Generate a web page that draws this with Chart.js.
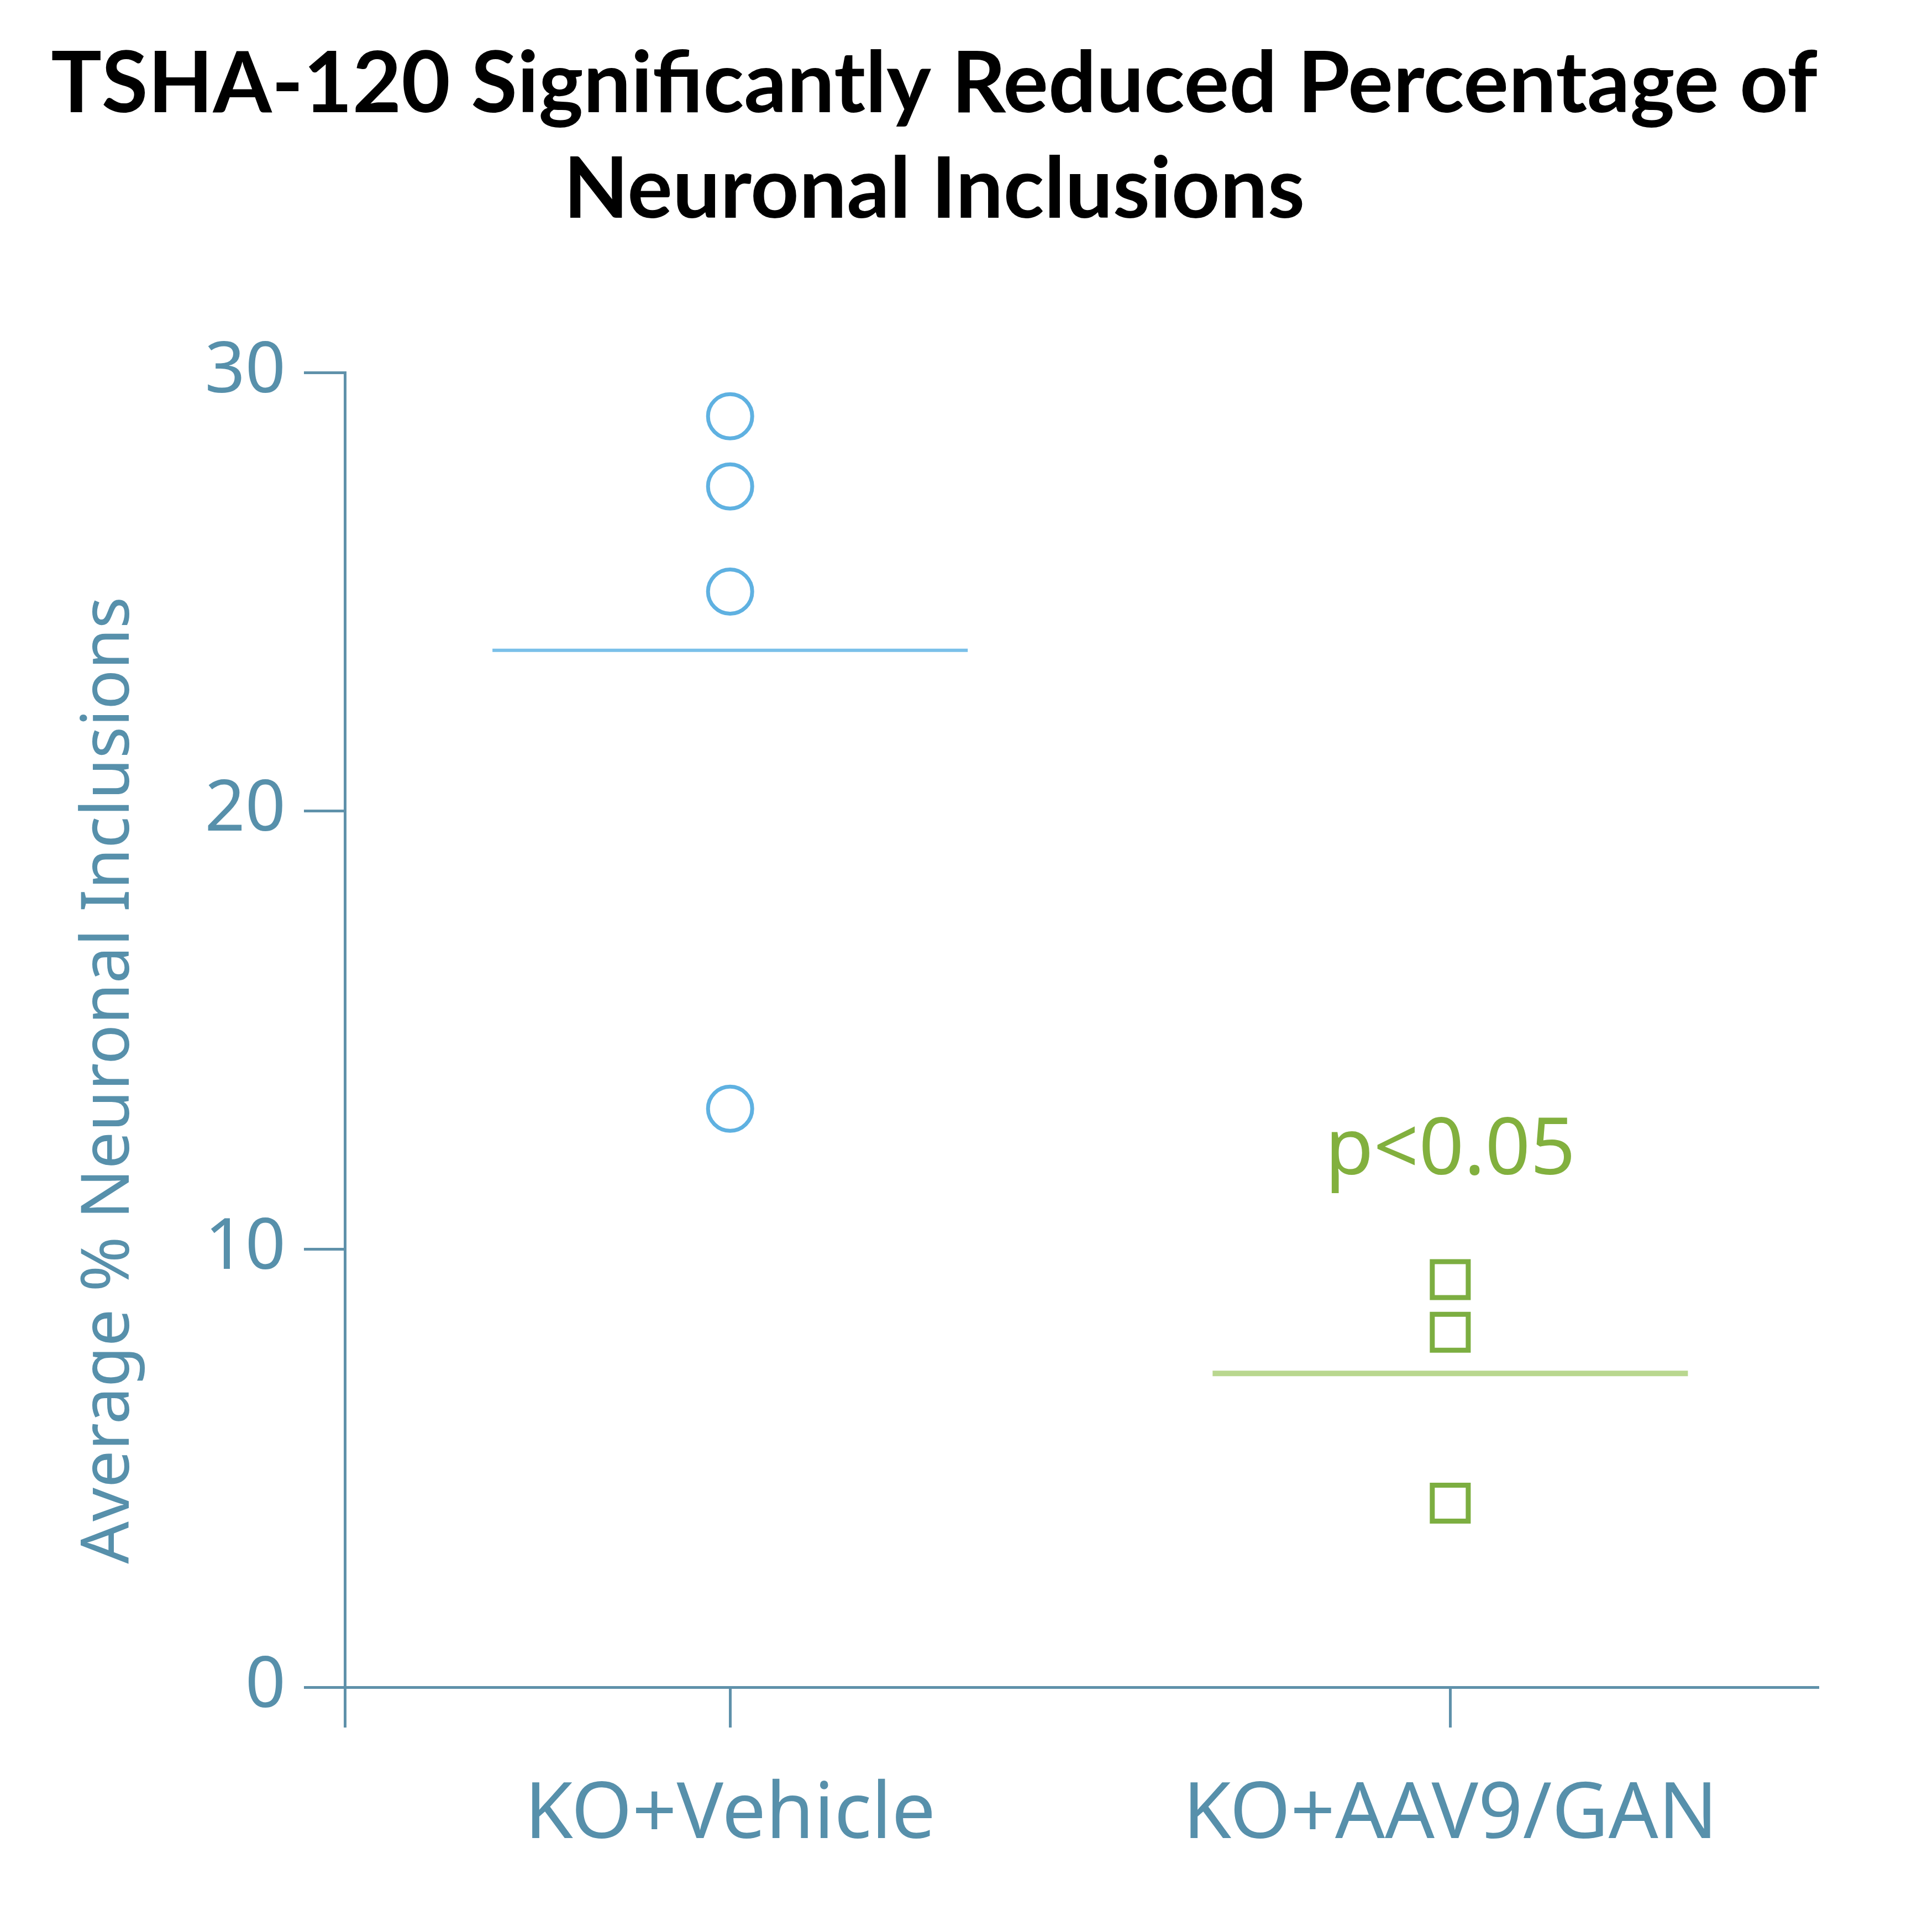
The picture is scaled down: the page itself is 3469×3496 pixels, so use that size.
<!DOCTYPE html>
<html>
<head>
<meta charset="utf-8">
<title>TSHA-120 Neuronal Inclusions</title>
<script src="https://cdn.jsdelivr.net/npm/chart.js@4.4.0/dist/chart.umd.min.js"></script>
<style>
  html, body { margin: 0; padding: 0; background: #ffffff; }
  #wrap { width: 3469px; height: 3496px; position: relative; }
</style>
</head>
<body>
<div id="wrap"><canvas id="plot"></canvas></div>
<script>
// Groups on the x axis (placed at x = 1 and x = 2)
const categories = ['KO+Vehicle', 'KO+AAV9/GAN'];

// Individual animal values
const vehicleValues = [29.0, 27.4, 25.0, 13.2];
const ganValues = [9.3, 8.1, 4.2];

// Group means (horizontal bars)
const vehicleMean = 23.66;
const ganMean = 7.16;

// y axis ticks
const yTicks = [0, 10, 20, 30];

const yTitleText = 'Average % Neuronal Inclusions';
const pValueText = 'p<0.05';

// Colours
const axisColor = '#5f91aa';
const labelColor = '#5790ab';
const blue = '#5fb1e1';
const blueLine = '#7ac0e9';
const green = '#7cae41';
const greenLine = '#b9d78f';
const pColor = '#82b03e';

const halfBar = 0.33; // half width of the mean bars, in x units

// Draws the y axis title (sits a bit below the axis centre in the original)
// and the p-value label above the second group
const annotationPlugin = {
  id: 'annotations',
  afterDatasetsDraw(chart) {
    const { ctx, scales } = chart;
    ctx.save();

    ctx.font = '120px "Noto Sans"';
    ctx.fillStyle = labelColor;
    ctx.textAlign = 'center';
    ctx.textBaseline = 'middle';
    ctx.translate(scales.y.left + 107, scales.y.getPixelForValue(13.85));
    ctx.rotate(-Math.PI / 2);
    ctx.fillText(yTitleText, 0, 0);
    ctx.setTransform(1, 0, 0, 1, 0, 0);

    ctx.font = '143px "Noto Sans"';
    ctx.fillStyle = pColor;
    ctx.textAlign = 'center';
    ctx.textBaseline = 'alphabetic';
    ctx.fillText(pValueText, scales.x.getPixelForValue(2), scales.y.getPixelForValue(11.7));
    ctx.restore();
  }
};

const plotCanvas = document.getElementById('plot').getContext('2d');

let chart = new Chart(plotCanvas, {
  type: 'scatter',
  data: {
    datasets: [
      {
        label: categories[0],
        data: vehicleValues.map(v => ({ x: 1, y: v })),
        pointStyle: 'circle',
        pointRadius: 40,
        pointBorderWidth: 7,
        borderColor: blue,
        backgroundColor: 'rgba(0,0,0,0)'
      },
      {
        label: categories[1],
        data: ganValues.map(v => ({ x: 2, y: v })),
        pointStyle: 'rect',
        pointRadius: 46,
        pointBorderWidth: 9,
        borderColor: green,
        backgroundColor: 'rgba(0,0,0,0)'
      },
      {
        type: 'line',
        label: 'Vehicle mean',
        data: [{ x: 1 - halfBar, y: vehicleMean }, { x: 1 + halfBar, y: vehicleMean }],
        borderColor: blueLine,
        borderWidth: 6,
        pointRadius: 0
      },
      {
        type: 'line',
        label: 'GAN mean',
        data: [{ x: 2 - halfBar, y: ganMean }, { x: 2 + halfBar, y: ganMean }],
        borderColor: greenLine,
        borderWidth: 10,
        pointRadius: 0
      }
    ]
  },
  options: {
    responsive: true,
    maintainAspectRatio: false,
    devicePixelRatio: 1,
    animation: false,
    layout: { padding: { left: 92, right: 180, top: 0, bottom: 0 } },
    plugins: {
      legend: { display: false },
      tooltip: { enabled: false },
      title: {
        display: true,
        text: ['TSHA-120 Significantly Reduced Percentage of', 'Neuronal Inclusions'],
        color: '#000000',
        font: { family: 'Lato', size: 153, weight: 'bold', lineHeight: 191 / 153 },
        padding: { top: 58, bottom: 234 }
      }
    },
    scales: {
      x: {
        type: 'linear',
        min: 0.465,
        max: 2.51,
        afterFit(scale) { scale.height = 443; },
        afterBuildTicks(scale) {
          scale.ticks = [{ value: scale.min }, { value: 1 }, { value: 2 }];
        },
        ticks: {
          color: labelColor,
          font: { family: 'Noto Sans', size: 141 },
          padding: 75,
          maxRotation: 0,
          autoSkip: false,
          callback: (v) => (v === 1 || v === 2) ? categories[v - 1] : ''
        },
        grid: {
          drawOnChartArea: false,
          drawTicks: true,
          tickLength: 73,
          color: axisColor,
          lineWidth: 5
        },
        border: { display: true, color: axisColor, width: 5 }
      },
      y: {
        min: 0,
        max: 30,
        afterFit(scale) { scale.width = 532; },
        afterBuildTicks(scale) {
          scale.ticks = yTicks.map(v => ({ value: v }));
        },
        ticks: {
          color: labelColor,
          font: { family: 'Noto Sans', size: 128 },
          padding: 33
        },
        grid: {
          drawOnChartArea: false,
          drawTicks: true,
          tickLength: 74,
          color: axisColor,
          lineWidth: 5
        },
        border: { display: true, color: axisColor, width: 5 }
      }
    }
  },
  plugins: [annotationPlugin]
});
</script>
</body>
</html>
